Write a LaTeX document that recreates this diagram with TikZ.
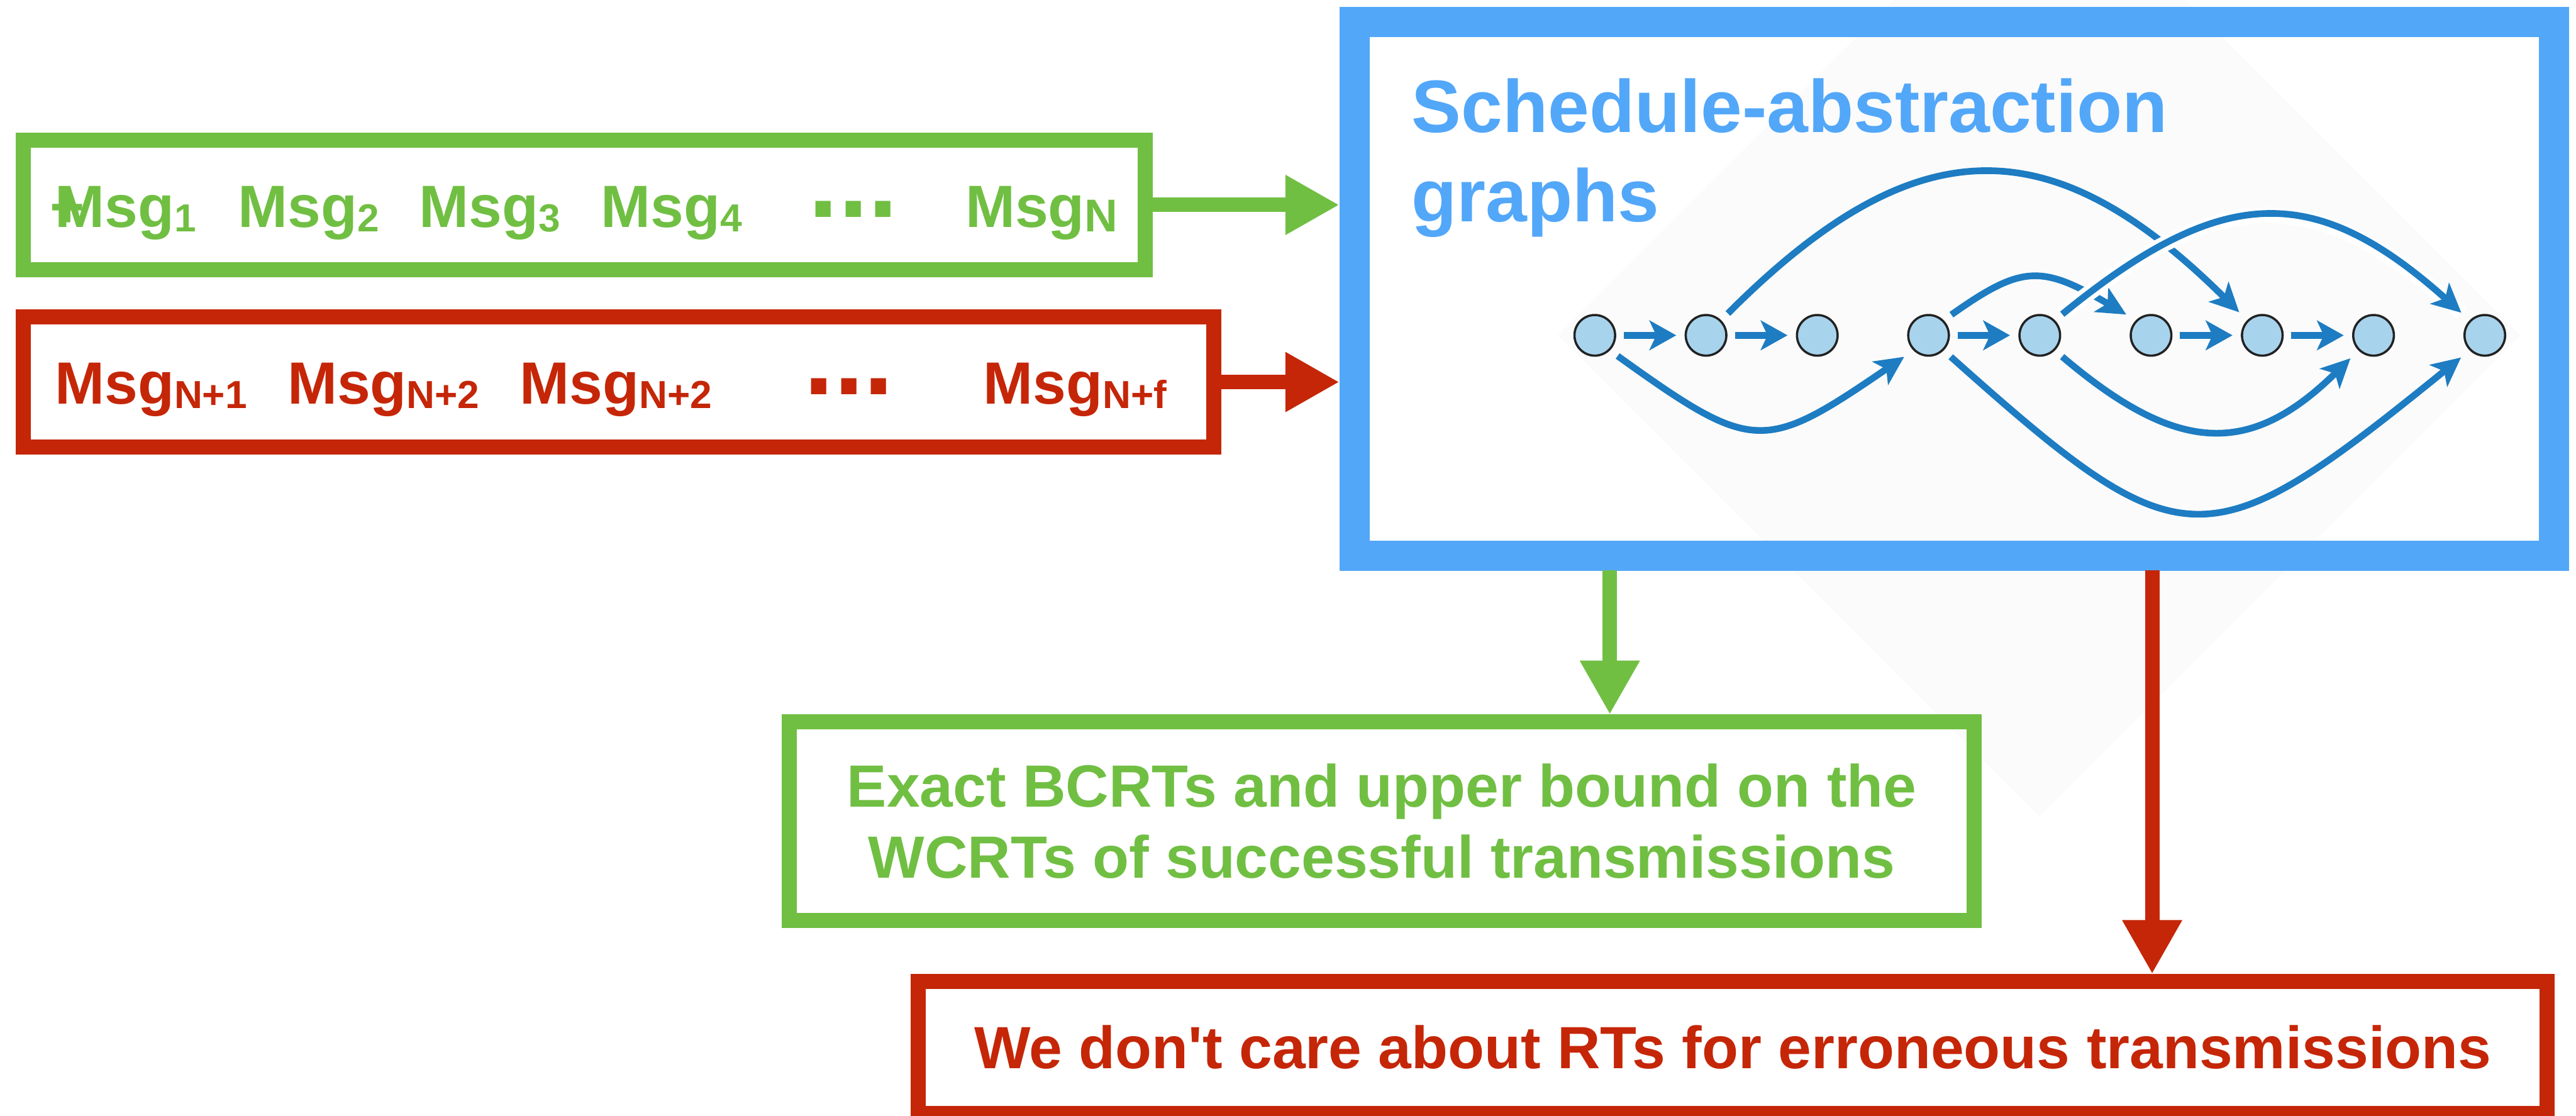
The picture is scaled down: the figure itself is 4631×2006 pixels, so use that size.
\documentclass[tikz,border=0pt]{standalone}
\usepackage{fontspec}
\setmainfont{Liberation Sans}
\usetikzlibrary{arrows.meta}

\definecolor{okgreen}{RGB}{112,191,67}
\definecolor{errred}{RGB}{197,38,8}
\definecolor{sagblue}{RGB}{82,167,249}
\definecolor{edgeblue}{RGB}{29,124,194}
\definecolor{statefill}{RGB}{168,211,237}
\definecolor{statering}{RGB}{34,34,34}
\definecolor{backdrop}{RGB}{251,251,251}

% message indices
\newcommand\msgidx[1]{\raisebox{-2.3pt}{\fontsize{20}{20}\selectfont #1}}
\newcommand\msgidxN[1]{\raisebox{-2.3pt}{\fontsize{23.5}{24}\selectfont #1}}

\tikzset{
  boxframe/.style={draw, rectangle, inner sep=0pt, line width=0.27cm},
  msgtext/.style={anchor=base west, inner sep=0pt, font=\fontsize{30.5}{36}\selectfont\bfseries},
  dotstext/.style={anchor=base west, inner sep=0pt, font=\fontsize{55}{60}\selectfont\bfseries},
  titletext/.style={anchor=base west, inner sep=0pt, text=sagblue, font=\fontsize{38}{44}\selectfont\bfseries},
  flowarrow/.style={line width=0.26cm, -{Triangle[length=0.97cm,width=1.01cm]}},
  sagstate/.style={circle, minimum size=0.73cm, inner sep=0pt, draw=statering, line width=0.04cm, fill=statefill},
  seqedge/.style={draw=edgeblue, line width=0.12cm, shorten <=0.135cm, shorten >=0.15cm,
                  -{Stealth[length=0.48cm,width=0.53cm,inset=0.12cm]}},
  jumpedge/.style={draw=edgeblue, line width=0.12cm, shorten <=0.17cm, shorten >=0.2cm,
                  -{Stealth[length=0.52cm,width=0.5cm,inset=0.13cm]}},
}

\begin{document}
\begin{tikzpicture}[x=0.01cm, y=-0.01cm]
\useasboundingbox (0,0) rectangle (4631,2006);
\clip (0,0) rectangle (4631,2006);

% faint backdrop behind the graph
\fill[backdrop] (3666,-262) -- (4531,603) -- (3666,1468) -- (2801,603) -- cycle;

% frames
\node[boxframe, draw=okgreen, minimum width=20.16cm, minimum height=2.32cm] (gbox) at (1050.5,368.5) {};
\node[boxframe, draw=errred, minimum width=21.39cm, minimum height=2.34cm] (rbox) at (1112,687) {};
\node[boxframe, draw=sagblue, line width=0.54cm, minimum width=21.55cm, minimum height=9.594cm] (sag) at (3513,519.3) {};
\node[boxframe, draw=okgreen, text=okgreen, align=center, minimum width=21.285cm, minimum height=3.565cm,
      font=\fontsize{30.5}{36.13}\selectfont\bfseries] (okres) at (2484,1476.75)
      {Exact BCRTs and upper bound on the\\WCRTs of successful transmissions};
\node[boxframe, draw=errred, text=errred, minimum width=29.26cm, minimum height=2.37cm,
      font=\fontsize{30.5}{36}\selectfont\bfseries] (errres) at (3115,1883.5)
      {We don\textquotesingle t care about RTs for erroneous transmissions};

% message lists
\node[msgtext, anchor=base, text=okgreen] (gplus) at (121,408.5) {+};
\node[msgtext, text=okgreen] (m1) at (98,408.5) {Msg\msgidx{1}};
\node[msgtext, text=okgreen] (m2) at (427,408.5) {Msg\msgidx{2}};
\node[msgtext, text=okgreen] (m3) at (753,408.5) {Msg\msgidx{3}};
\node[msgtext, text=okgreen] (m4) at (1080,408.5) {Msg\msgidx{4}};
\node[dotstext, text=okgreen] (gdots) at (1453,391) {...};
\node[msgtext, text=okgreen] (m5) at (1735,408.5) {Msg\msgidxN{N}};

\node[msgtext, text=errred] (r1) at (98,726) {Msg\msgidx{N+1}};
\node[msgtext, text=errred] (r2) at (516,726) {Msg\msgidx{N+2}};
\node[msgtext, text=errred] (r3) at (934,726) {Msg\msgidx{N+2}};
\node[dotstext, text=errred] (rdots) at (1445,709) {...};
\node[msgtext, text=errred] (r4) at (1767,726) {Msg\msgidx{N+f}};

% title
\node[titletext] (t1) at (2537,238.5) {Schedule-abstraction};
\node[titletext] (t2) at (2537,398.5) {graphs};

% flows between blocks
\draw[flowarrow, okgreen] (gbox.east) -- (gbox.east -| sag.west);
\draw[flowarrow, errred] (rbox.east) -- (rbox.east -| sag.west);
\coordinate (gdrop) at (2894,1026);
\coordinate (rdrop) at (3869,1026);
\draw[flowarrow, okgreen] (gdrop) -- (gdrop |- okres.north);
\draw[flowarrow, errred] (rdrop) -- (rdrop |- errres.north);

% schedule-abstraction graph
\foreach \i/\x in {1/2867,2/3067,3/3267,4/3467,5/3667,6/3867,7/4067,8/4267,9/4467}
  \node[sagstate] (n\i) at (\x,603) {};

\draw[seqedge] (n1) -- (n2);
\draw[seqedge] (n2) -- (n3);
\draw[seqedge] (n4) -- (n5);
\draw[seqedge] (n6) -- (n7);
\draw[seqedge] (n7) -- (n8);

\draw[jumpedge] (n1.-45) .. controls (3152,815) and (3170,815) .. (n4.-135);
\draw[jumpedge] (n2.45) .. controls (3443,226) and (3688,226) .. (n7.135);
\draw[jumpedge] (n4.45) .. controls (3635,476) and (3670,476) .. (n6.135);
\draw[jumpedge] (n4.-45) .. controls (3925,1015) and (3965,1015) .. (n9.-135);
\draw[jumpedge] (n5.-45) .. controls (3917,820) and (4047,820) .. (n8.-135);
\draw[jumpedge, preaction={draw=white, line width=0.28cm, -}]
  (n5.45) .. controls (3997,328) and (4163,328) .. (n9.135);
\end{tikzpicture}
\end{document}
